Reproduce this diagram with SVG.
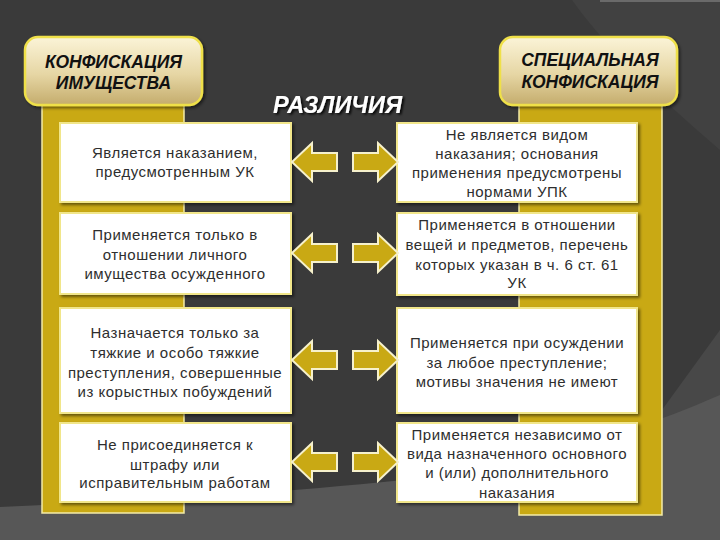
<svg xmlns="http://www.w3.org/2000/svg" width="720" height="540" viewBox="0 0 720 540">
<defs>
<linearGradient id="hdr" x1="0" y1="0" x2="0" y2="1">
<stop offset="0" stop-color="#fbf4d8"/>
<stop offset="0.55" stop-color="#e6d6a4"/>
<stop offset="1" stop-color="#c4ac6c"/>
</linearGradient>
<filter id="sh" x="-10%" y="-10%" width="130%" height="130%">
<feDropShadow dx="2" dy="2" stdDeviation="1.5" flood-color="#000" flood-opacity="0.5"/>
</filter>
<filter id="tsh" x="-10%" y="-30%" width="130%" height="160%">
<feDropShadow dx="2" dy="1.5" stdDeviation="0.8" flood-color="#000" flood-opacity="0.85"/>
</filter>
</defs>
<style>
.bar{fill:#c9a914;stroke:#f3eca8;stroke-width:1.5}
.box{fill:#ffffff;stroke:#f1e68a;stroke-width:2}
.hdr{fill:url(#hdr);stroke:#efe04a;stroke-width:2.5}
.ht{font-family:"Liberation Sans",Arial,sans-serif;font-weight:bold;font-style:italic;font-size:17.5px;fill:#111;text-anchor:middle}
.t{font-family:"Liberation Sans",Arial,sans-serif;font-size:15px;letter-spacing:0.5px;fill:#2e2e2e;text-anchor:middle}
.arr{fill:#c9a914;stroke:#f6f1cc;stroke-width:2;stroke-linejoin:miter}
.title{font-family:"Liberation Sans",Arial,sans-serif;font-weight:bold;font-style:italic;font-size:23.5px;text-anchor:middle;fill:#ffffff}
</style>
<rect x="0" y="0" width="720" height="540" fill="#3a3a3a"/>
<path d="M572,0 C600,40 650,90 720,150 L720,0 Z" fill="#414141"/>
<path d="M720,330 L662,410 L662,540 L720,540 Z" fill="#484848"/>
<path d="M0,507 C150,500 300,492 420,478 C540,462 640,430 720,395 L720,540 L0,540 Z" fill="#575757"/>
<rect x="600" y="0" width="120" height="2" fill="#6a6a6a"/>

<g id="title">
<text class="title" x="337.5" y="113" filter="url(#tsh)">РАЗЛИЧИЯ</text>
</g>

<g id="left-column">
<rect class="bar" x="42" y="100" width="142" height="413"/>
<rect class="hdr" x="25" y="37" width="177" height="68" rx="13" filter="url(#sh)"/>
<text class="ht" x="113.5" y="68">КОНФИСКАЦИЯ</text>
<text class="ht" x="113.5" y="89">ИМУЩЕСТВА</text>
</g>

<g id="right-column">
<rect class="bar" x="519" y="100" width="143" height="415"/>
<rect class="hdr" x="500" y="37" width="177" height="68" rx="13" filter="url(#sh)"/>
<text class="ht" x="590" y="66">СПЕЦИАЛЬНАЯ</text>
<text class="ht" x="590" y="88">КОНФИСКАЦИЯ</text>
</g>

<g id="left1">
<rect class="box" x="60" y="123" width="231" height="79" filter="url(#sh)"/>
<text class="t" x="175" y="158">Является наказанием,</text>
<text class="t" x="175" y="177">предусмотренным УК</text>
</g>
<g id="left2">
<rect class="box" x="60" y="213" width="231" height="81" filter="url(#sh)"/>
<text class="t" x="175" y="240">Применяется только в</text>
<text class="t" x="175" y="260">отношении личного</text>
<text class="t" x="175" y="279">имущества осужденного</text>
</g>
<g id="left3">
<rect class="box" x="60" y="308" width="231" height="105" filter="url(#sh)"/>
<text class="t" x="175" y="338">Назначается только за</text>
<text class="t" x="175" y="358">тяжкие и особо тяжкие</text>
<text class="t" x="175" y="378">преступления, совершенные</text>
<text class="t" x="175" y="397">из корыстных побуждений</text>
</g>
<g id="left4">
<rect class="box" x="60" y="423" width="231" height="79" filter="url(#sh)"/>
<text class="t" x="175" y="450">Не присоединяется к</text>
<text class="t" x="175" y="470">штрафу или</text>
<text class="t" x="175" y="488">исправительным работам</text>
</g>

<g id="right1">
<rect class="box" x="397" y="123" width="240" height="79" filter="url(#sh)"/>
<text class="t" x="517" y="140">Не является видом</text>
<text class="t" x="517" y="159">наказания; основания</text>
<text class="t" x="517" y="178">применения предусмотрены</text>
<text class="t" x="517" y="197">нормами УПК</text>
</g>
<g id="right2">
<rect class="box" x="397" y="213" width="240" height="82" filter="url(#sh)"/>
<text class="t" x="517" y="230">Применяется в отношении</text>
<text class="t" x="517" y="250">вещей и предметов, перечень</text>
<text class="t" x="517" y="270">которых указан в ч. 6 ст. 61</text>
<text class="t" x="517" y="288">УК</text>
</g>
<g id="right3">
<rect class="box" x="397" y="308" width="240" height="105" filter="url(#sh)"/>
<text class="t" x="517" y="348">Применяется при осуждении</text>
<text class="t" x="517" y="368">за любое преступление;</text>
<text class="t" x="517" y="387">мотивы значения не имеют</text>
</g>
<g id="right4">
<rect class="box" x="397" y="423" width="240" height="79" filter="url(#sh)"/>
<text class="t" x="517" y="440">Применяется независимо от</text>
<text class="t" x="517" y="459">вида назначенного основного</text>
<text class="t" x="517" y="478">и (или) дополнительного</text>
<text class="t" x="517" y="498">наказания</text>
</g>

<g id="connectors">
<polygon class="arr" points="292,162 312,143 312,153 337,153 337,171 312,171 312,181"/>
<polygon class="arr" points="398,162 378,143 378,153 353,153 353,171 378,171 378,181"/>
<polygon class="arr" points="292,253 312,234 312,244 337,244 337,262 312,262 312,272"/>
<polygon class="arr" points="398,253 378,234 378,244 353,244 353,262 378,262 378,272"/>
<polygon class="arr" points="292,360 312,341 312,351 337,351 337,369 312,369 312,379"/>
<polygon class="arr" points="398,360 378,341 378,351 353,351 353,369 378,369 378,379"/>
<polygon class="arr" points="292,462 312,443 312,453 337,453 337,471 312,471 312,481"/>
<polygon class="arr" points="398,462 378,443 378,453 353,453 353,471 378,471 378,481"/>
</g>
</svg>
